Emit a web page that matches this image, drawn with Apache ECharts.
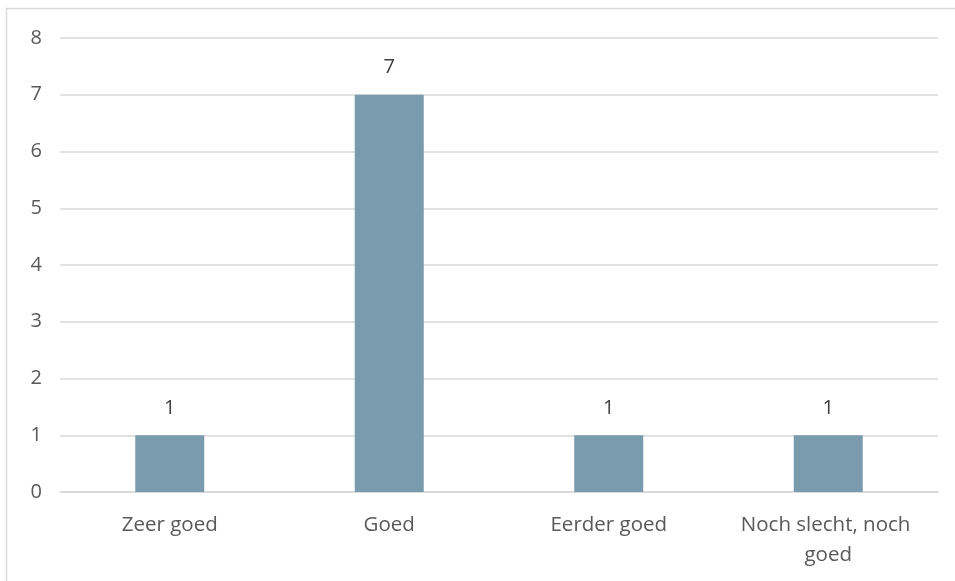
<!DOCTYPE html>
<html>
<head>
<meta charset="utf-8">
<script src="https://cdn.jsdelivr.net/npm/echarts@6/dist/echarts.min.js"></script>
<style>
  html, body { margin: 0; padding: 0; background: #fff; }
  #chart { width: 955px; height: 581px; }
</style>
</head>
<body>
<div id="chart"></div>
<script>
// Answer categories and response counts
const categories = ['Zeer goed', 'Goed', 'Eerder goed', 'Noch slecht, noch goed'];
const counts = [1, 7, 1, 1];
const yMin = 0;
const yMax = 8;
const yStep = 1;

const chart = echarts.init(document.getElementById('chart'), null, { renderer: 'canvas' });
const font = "'Open Sans', 'Noto Sans', sans-serif";

chart.setOption({
  backgroundColor: '#ffffff',
  animation: false,
  graphic: [{
    type: 'rect',
    shape: { x: 6.5, y: 8.5, width: 1000, height: 1000 },
    style: { fill: 'none', stroke: '#d9d9d9', lineWidth: 1.5 },
    silent: true
  }],
  grid: { left: 60, right: 17, top: 38, bottom: 89 },
  xAxis: {
    type: 'category',
    data: categories,
    axisLine: { show: true, lineStyle: { color: '#d9d9d9', width: 1.5 } },
    axisTick: { show: false },
    axisLabel: {
      color: '#595959',
      fontFamily: font,
      fontSize: 20.5,
      margin: 18,
      lineHeight: 30,
      width: 200,
      overflow: 'break',
      interval: 0
    }
  },
  yAxis: {
    type: 'value',
    min: yMin,
    max: yMax,
    interval: yStep,
    axisLine: { show: false },
    axisTick: { show: false },
    axisLabel: { color: '#595959', fontFamily: font, fontSize: 20, margin: 18 },
    splitLine: { lineStyle: { color: '#d9d9d9', width: 1.5 } }
  },
  series: [{
    type: 'bar',
    data: counts,
    barWidth: 69,
    itemStyle: { color: '#7a9aae' },
    label: {
      show: true,
      position: 'top',
      distance: 17,
      color: '#404040',
      fontFamily: font,
      fontSize: 20
    }
  }]
});
</script>
</body>
</html>
